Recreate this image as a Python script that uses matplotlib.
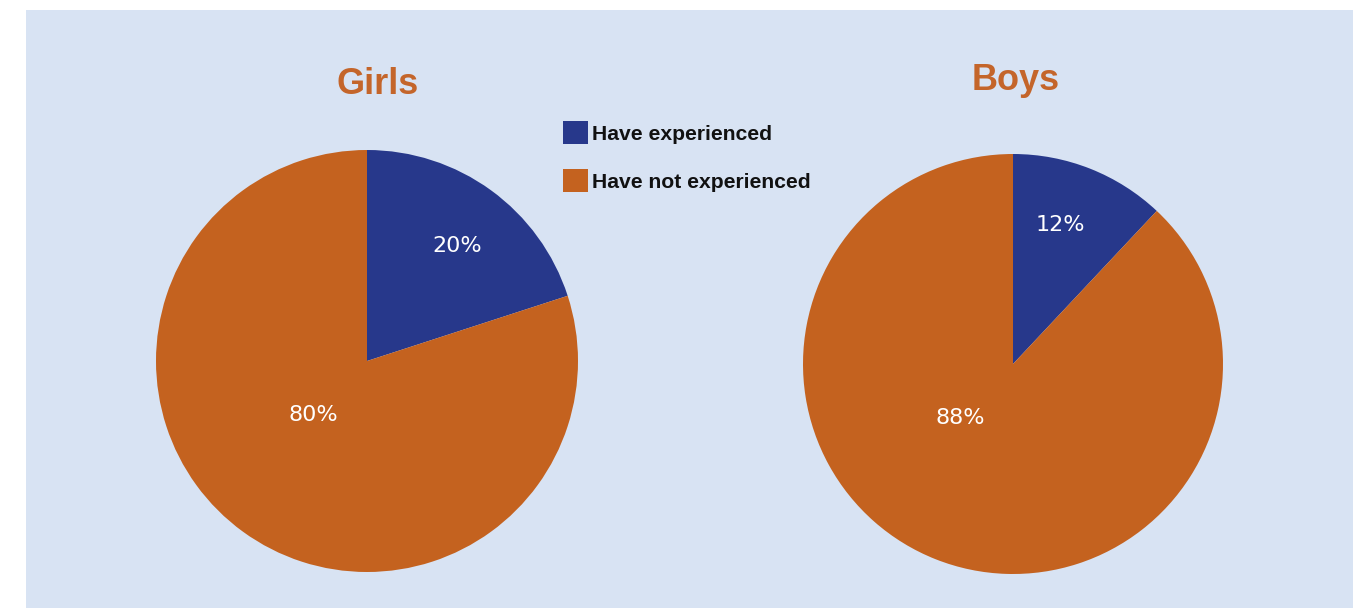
import matplotlib.pyplot as plt
from matplotlib.patches import Rectangle, Patch

# ---- data ----
groups = ['Girls', 'Boys']
categories = ['Have experienced', 'Have not experienced']
girls_pct = [20, 80]
boys_pct = [12, 88]

BLUE = '#27388b'
ORANGE = '#c4621f'
TITLE = '#c4652a'
PANEL = '#d8e3f3'

W, H = 1363, 608
fig = plt.figure(figsize=(W / 100, H / 100), dpi=100, facecolor='white')
ax = fig.add_axes([0, 0, 1, 1])
ax.set_xlim(0, W); ax.set_ylim(0, H)
ax.set_aspect('equal'); ax.axis('off')

# light blue panel behind everything
ax.add_patch(Rectangle((26, 0), 1327, 598, facecolor=PANEL, edgecolor='none', zorder=0))

# pie geometry (pixel coords, y up) and where the % labels sit
pies = [
    (girls_pct, (367, H - 361), 211, (378, H - 84), [(457, H - 246), (313, H - 415)]),
    (boys_pct, (1013, H - 364), 210, (1016, H - 80), [(1060, H - 225), (960, H - 418)]),
]
for (vals, center, r, tpos, lpos), name in zip(pies, groups):
    ax.pie(vals, colors=[BLUE, ORANGE], startangle=90, counterclock=False,
           center=center, radius=r, wedgeprops=dict(linewidth=0),
           frame=True)
    for v, (x, y) in zip(vals, lpos):
        ax.text(x, y, f'{v}%', color='white', fontsize=16, ha='center', va='center',
                family='DejaVu Sans', zorder=5)
    ax.text(tpos[0], tpos[1], name, color=TITLE, fontsize=26, fontweight='bold',
            family='Liberation Sans', ha='center', va='center')

ax.set_xlim(0, W); ax.set_ylim(0, H); ax.axis('off')

handles = [Patch(facecolor=c, edgecolor='none') for c in (BLUE, ORANGE)]
leg = ax.legend(handles, categories, loc='upper left',
                bbox_to_anchor=(563 / W, 1 - 121 / H), frameon=False,
                prop=dict(family='Liberation Sans', weight='bold', size=15.2),
                handlelength=1.2, handleheight=1.3, handletextpad=0.15,
                labelspacing=1.2, borderpad=0, borderaxespad=0)
for t in leg.get_texts():
    t.set_color('#111111')

fig.savefig('out.png', dpi=100, facecolor='white')
